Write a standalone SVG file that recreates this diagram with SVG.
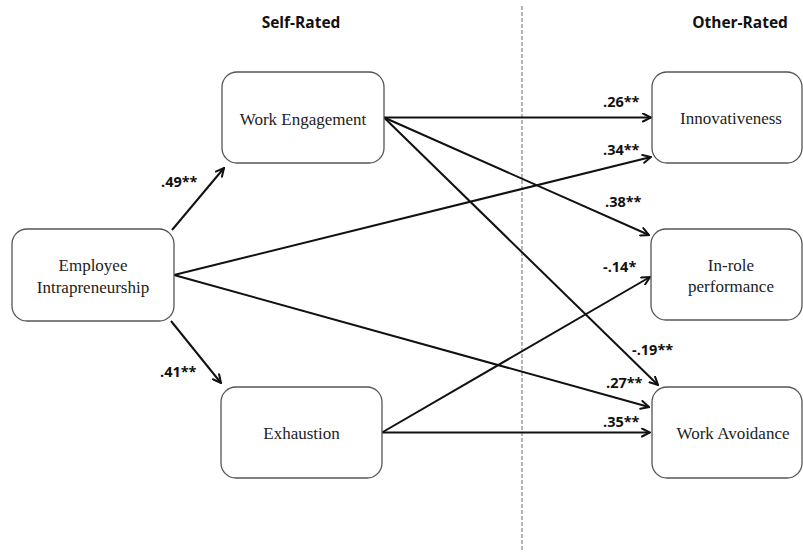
<svg xmlns="http://www.w3.org/2000/svg" width="803" height="552" viewBox="0 0 803 552">
<style>
.node rect{fill:#fff;stroke:#555;stroke-width:1.3}
.node text{font-family:"Liberation Serif","Times New Roman",serif;font-size:17px;fill:#222;text-anchor:middle}
.hdr{font-family:"Open Sans","Liberation Sans",sans-serif;font-size:15.5px;font-weight:bold;fill:#111;text-anchor:middle}
.lbl{font-family:"Open Sans","Liberation Sans",sans-serif;font-size:14.5px;font-weight:bold;fill:#111}
#connectors line{stroke:#111;stroke-width:2;marker-end:url(#arr)}
</style>
<defs>
<marker id="arr" viewBox="0 0 10 10" markerUnits="userSpaceOnUse" markerWidth="10" markerHeight="10" refX="9" refY="5" orient="auto">
<path d="M1,1 L9,5 L1,9" fill="none" stroke="#111" stroke-width="2" stroke-linecap="round" stroke-linejoin="miter"/>
</marker>
</defs>
<rect width="803" height="552" fill="#fff"/>
<line x1="522" y1="6" x2="522" y2="552" stroke="#888" stroke-width="1.2" stroke-dasharray="4 2"/>
<text class="hdr" x="301" y="28">Self-Rated</text>
<text class="hdr" x="740" y="28">Other-Rated</text>

<g id="connectors">
<line x1="172" y1="230" x2="224" y2="168"/>
<line x1="171" y1="321" x2="221" y2="383"/>
<line x1="384" y1="117.5" x2="651" y2="117.5"/>
<line x1="174" y1="275" x2="651" y2="157"/>
<line x1="384" y1="117.5" x2="649" y2="235"/>
<line x1="384" y1="117.5" x2="658" y2="385"/>
<line x1="174" y1="275" x2="649" y2="407"/>
<line x1="382" y1="432.5" x2="650" y2="277"/>
<line x1="382" y1="432.5" x2="650" y2="432.5"/>
</g>

<g id="labels">
<text class="lbl" x="161" y="187">.49**</text>
<text class="lbl" x="160" y="377">.41**</text>
<text class="lbl" x="603" y="107">.26**</text>
<text class="lbl" x="603" y="155">.34**</text>
<text class="lbl" x="605" y="207">.38**</text>
<text class="lbl" x="603" y="272">-.14*</text>
<text class="lbl" x="632" y="355">-.19**</text>
<text class="lbl" x="606" y="388">.27**</text>
<text class="lbl" x="603" y="427">.35**</text>
</g>

<g id="employee-intrapreneurship" class="node">
<rect x="12" y="229" width="162" height="92" rx="15"/>
<text x="93" y="271">Employee</text>
<text x="93" y="293">Intrapreneurship</text>
</g>
<g id="work-engagement" class="node">
<rect x="222" y="72" width="162" height="91" rx="15"/>
<text x="303" y="125">Work Engagement</text>
</g>
<g id="exhaustion" class="node">
<rect x="221" y="387" width="161" height="91" rx="15"/>
<text x="301.5" y="439">Exhaustion</text>
</g>
<g id="innovativeness" class="node">
<rect x="652" y="72" width="150" height="91" rx="15"/>
<text x="731" y="124">Innovativeness</text>
</g>
<g id="in-role-performance" class="node">
<rect x="651" y="229" width="151" height="91" rx="15"/>
<text x="731" y="271">In-role</text>
<text x="731" y="292">performance</text>
</g>
<g id="work-avoidance" class="node">
<rect x="652" y="387" width="150" height="91" rx="15"/>
<text x="733" y="439">Work Avoidance</text>
</g>
</svg>
